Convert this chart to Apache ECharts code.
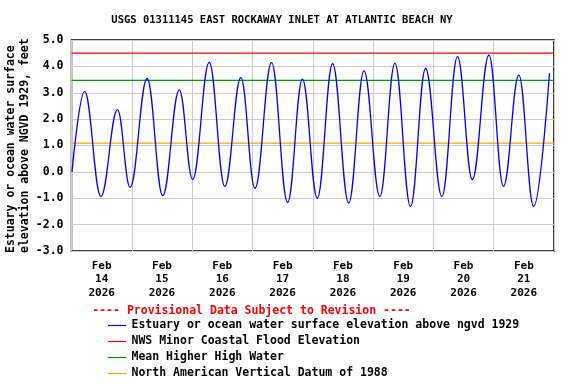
<!DOCTYPE html>
<html>
<head>
<meta charset="utf-8">
<script src="https://cdn.jsdelivr.net/npm/echarts@6/dist/echarts.min.js"></script>
<style>
html,body{margin:0;padding:0;background:#fff;}
#chart{width:576px;height:384px;}
</style>
</head>
<body>
<div id="chart"></div>
<script>
// Hours since Feb 14 2026 00:00 and water level (feet above NGVD 1929)
const hours = [0.2, 5.2, 11.7, 18.3, 23.3, 30.1, 36.3, 42.9, 48.2, 54.8, 61.0, 67.4, 73.0, 79.6, 86.0, 91.9, 97.8, 103.9, 110.3, 116.4, 122.7, 128.7, 134.9, 140.9, 147.4, 153.6, 159.5, 166.1, 171.9, 178.0, 183.9, 190.2];
const waterLevel = [0.0, 3.05, -0.93, 2.36, -0.59, 3.54, -0.90, 3.11, -0.29, 4.15, -0.55, 3.57, -0.62, 4.14, -1.16, 3.52, -1.00, 4.10, -1.18, 3.83, -0.93, 4.11, -1.31, 3.92, -0.93, 4.37, -0.29, 4.43, -0.55, 3.67, -1.31, 3.74];
const floodLevel = 4.5;   // NWS Minor Coastal Flood Elevation
const mhhwLevel = 3.47;   // Mean Higher High Water
const navd88Level = 1.09; // North American Vertical Datum of 1988
const dayLabels = ['Feb\n14\n2026', 'Feb\n15\n2026', 'Feb\n16\n2026', 'Feb\n17\n2026', 'Feb\n18\n2026', 'Feb\n19\n2026', 'Feb\n20\n2026', 'Feb\n21\n2026'];
const dayLabelHours = [12, 36, 60, 84, 108, 132, 156, 180];
const xRange = [0, 192];
const yRange = [-3, 5];

const seriesNames = [
  'Estuary or ocean water surface elevation above ngvd 1929',
  'NWS Minor Coastal Flood Elevation',
  'Mean Higher High Water',
  'North American Vertical Datum of 1988'
];
const seriesColors = ['#0000ff', '#ff0000', '#009900', '#ffa500'];

const FONT = '"DejaVu Sans Mono", "Liberation Mono", monospace';
const chart = echarts.init(document.getElementById('chart'), null, {renderer: 'canvas'});

function flat(v) { return [[xRange[0], v], [xRange[1], v]]; }

const legendGraphics = [];
seriesNames.forEach(function (name, i) {
  const y = 325 + i * 16;
  legendGraphics.push({type: 'line', shape: {x1: 108, y1: y + 0.5, x2: 126, y2: y + 0.5}, style: {stroke: seriesColors[i], lineWidth: 1.2}});
  legendGraphics.push({type: 'text', x: 131.5, y: y, style: {text: name, fontFamily: FONT, fontWeight: 'bold', fontSize: 11.5, fill: '#000', textAlign: 'left', textVerticalAlign: 'middle'}});
});

chart.setOption({
  animation: false,
  backgroundColor: '#fff',
  grid: {left: 71.5, right: 22, top: 40, bottom: 133, show: true, borderColor: '#000', borderWidth: 1.5, backgroundColor: 'transparent'},
  xAxis: {
    type: 'value', min: xRange[0], max: xRange[1], interval: 24,
    axisLine: {show: false}, axisTick: {show: false},
    splitLine: {show: true, lineStyle: {color: '#cccccc', width: 1}},
    axisLabel: {
      customValues: dayLabelHours,
      formatter: function (v) { return dayLabels[dayLabelHours.indexOf(v)] || ''; },
      fontFamily: FONT, fontWeight: 'bold', fontSize: 11, color: '#000', lineHeight: 13.5, margin: 8
    }
  },
  yAxis: {
    type: 'value', min: yRange[0], max: yRange[1], interval: 1,
    axisLine: {show: false}, axisTick: {show: false},
    splitLine: {show: true, lineStyle: {color: '#cccccc', width: 1}},
    axisLabel: {
      formatter: function (v) { return v.toFixed(1); },
      fontFamily: FONT, fontWeight: 'bold', fontSize: 11.5, color: '#000', margin: 8
    }
  },
  graphic: [
    {type: 'text', x: 282, y: 20, style: {text: 'USGS 01311145 EAST ROCKAWAY INLET AT ATLANTIC BEACH NY', fontFamily: FONT, fontWeight: 'bold', fontSize: 10.5, fill: '#000', textAlign: 'center', textVerticalAlign: 'middle'}},
    {type: 'text', x: 11, y: 253, rotation: Math.PI / 2, style: {text: 'Estuary or ocean water surface', fontFamily: FONT, fontWeight: 'bold', fontSize: 11.5, fill: '#000', textAlign: 'left', textVerticalAlign: 'middle'}},
    {type: 'text', x: 25.5, y: 253, rotation: Math.PI / 2, style: {text: 'elevation above NGVD 1929, feet', fontFamily: FONT, fontWeight: 'bold', fontSize: 11.5, fill: '#000', textAlign: 'left', textVerticalAlign: 'middle'}},
    {type: 'text', x: 251.5, y: 311, style: {text: '---- Provisional Data Subject to Revision ----', fontFamily: FONT, fontWeight: 'bold', fontSize: 11.5, fill: '#ff0000', textAlign: 'center', textVerticalAlign: 'middle'}}
  ].concat(legendGraphics),
  series: [
    {name: seriesNames[1], type: 'line', data: flat(floodLevel), showSymbol: false, silent: true, lineStyle: {color: seriesColors[1], width: 1.3}, z: 2},
    {name: seriesNames[2], type: 'line', data: flat(mhhwLevel), showSymbol: false, silent: true, lineStyle: {color: seriesColors[2], width: 1.3}, z: 2},
    {name: seriesNames[3], type: 'line', data: flat(navd88Level), showSymbol: false, silent: true, lineStyle: {color: seriesColors[3], width: 1.3}, z: 2},
    {name: seriesNames[0], type: 'line', data: hours.map(function (h, i) { return [h, waterLevel[i]]; }), showSymbol: false, smooth: 0.4, smoothMonotone: 'x', lineStyle: {color: seriesColors[0], width: 1.3}, z: 3}
  ]
});
</script>
</body>
</html>
